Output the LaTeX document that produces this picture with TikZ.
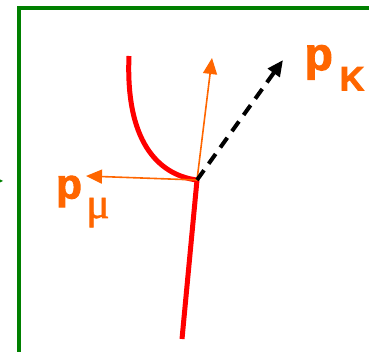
\documentclass[tikz,border=0pt]{standalone}
\usepackage{fontspec}
\setmainfont{Liberation Sans}
\newfontfamily\heavysans[FakeBold=2.5]{Liberation Sans Bold}
\newfontfamily\serifmu[FakeBold=1.2]{Liberation Serif}
\usetikzlibrary{arrows.meta}
\definecolor{frameGreen}{RGB}{0,128,0}
\definecolor{momOrange}{RGB}{255,102,0}
\definecolor{trackRed}{RGB}{255,0,0}
\begin{document}
\begin{tikzpicture}[x=1pt,y=-1pt,
  frameline/.style={draw=frameGreen,line width=4pt},
  track/.style={draw=trackRed,line width=5pt},
  mom/.style={draw=momOrange,line width=1.6pt,-{Triangle[length=16pt,width=14pt]}},
  kaon/.style={draw=black,line width=4pt,dash pattern=on 12pt off 8pt,-{Triangle[length=16pt,width=14pt]}},
  lbl/.style={text=momOrange,inner sep=0pt,anchor=base west}]
\useasboundingbox (0,0) rectangle (369,352);
\begin{scope}
\clip (0,0) rectangle (369,352);
% frame
\draw[frameline] (19,360) -- (19,8) -- (375,8);
\fill[frameGreen] (-3,178) -- (3,181) -- (-3,184) -- cycle;
\end{scope}
% points
\coordinate (v) at (197,180);
\coordinate (bot) at (182,339);
\coordinate (arcTop) at (129,56);
\coordinate (tipUp) at (212,58);
\coordinate (tipMu) at (86,176);
\coordinate (tipK) at (283,60);
% tracks
\draw[track] (bot) -- (v);
\draw[track] (arcTop) .. controls (125,150) and (165,176) .. (v);
% momenta
\draw[mom] (v) -- (tipUp);
\draw[mom] (v) -- (tipMu);
\draw[kaon] (v) -- (tipK);
% labels
\node[lbl] (pK) at (304.5,70) {\heavysans\fontsize{46}{46}\selectfont p};
\node[lbl] (K) at (339.5,90.5) {\heavysans\fontsize{34}{34}\selectfont K};
\node[lbl] (pmu) at (56,198.5) {\heavysans\fontsize{42}{42}\selectfont p};
\node[lbl] (mu) at (86,218) {\serifmu\fontsize{44}{44}\selectfont μ};
\end{tikzpicture}
\end{document}
